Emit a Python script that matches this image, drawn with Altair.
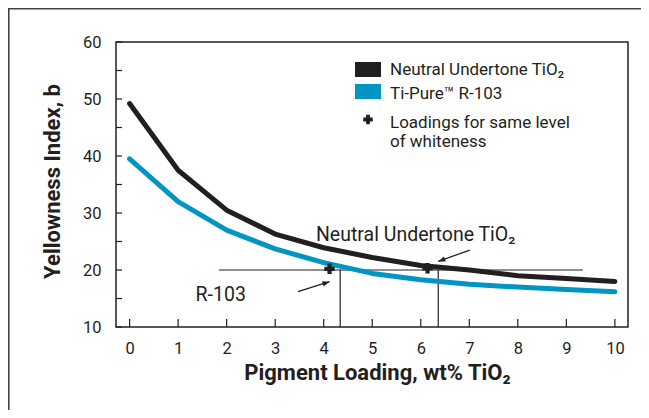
import altair as alt
import pandas as pd

# ---- data ----
loading = [0, 1, 2, 3, 4, 5, 6, 7, 8, 9, 10]
neutral_b = [49.2, 37.5, 30.5, 26.3, 23.9, 22.2, 20.8, 20.0, 19.0, 18.5, 18.0]
r103_b = [39.5, 32.0, 27.0, 23.7, 21.3, 19.4, 18.3, 17.5, 17.0, 16.6, 16.2]
series_names = ["Neutral Undertone TiO₂", "Ti-Pure™ R-103"]
series_colors = ["#231f20", "#0095c2"]

match_x = [4.12, 6.14]
match_y = [20.2, 20.3]
ref_level = [20]
ref_x_start = [1.84]
ref_x_end = [9.34]
drop_x = [4.34, 6.36]

arrow_x = [3.47, 7.01]
arrow_y = [16.2, 23.5]
arrow_x2 = [4.12, 6.36]
arrow_y2 = [17.95, 21.5]
arrow_angle = [72, 250]

note_text = ["Neutral Undertone TiO₂", "R-103"]
note_x = [3.84, 1.36]
note_y = [25.1, 14.6]

x_tick_values = list(range(0, 11))
y_label_values = [10, 20, 30, 40, 50, 60]
y_tick_values = list(range(10, 61, 5))

FONT = "Roboto, Liberation Sans, sans-serif"
INK = "#231f20"
W, H = 512, 285

lines_df = pd.DataFrame({
    "x": loading * 2,
    "y": neutral_b + r103_b,
    "series": [series_names[0]] * len(loading) + [series_names[1]] * len(loading),
})

xscale = alt.Scale(domain=[-0.28, 10.27], nice=False, zero=False)
yscale = alt.Scale(domain=[10, 60], nice=False, zero=False)

xax = alt.Axis(values=x_tick_values, ticks=False, tickSize=0, domain=False, grid=False,
               labelPadding=13, labelFontSize=16.5, labelColor=INK, labelFont=FONT,
               title="Pigment Loading, wt% TiO₂", titleFont=FONT, titleFontSize=22,
               titleFontWeight="bold", titleColor=INK, titleX=261, titleY=52,
               titleBaseline="alphabetic", titleAlign="center")
yax = alt.Axis(values=y_label_values, ticks=False, tickSize=0, domain=False, grid=False,
               labelPadding=15, labelFontSize=16.5, labelColor=INK, labelFont=FONT,
               labelFlush=False,
               title="Yellowness Index, b", titleFont=FONT, titleFontSize=22,
               titleFontWeight="bold", titleColor=INK, titleX=-57, titleY=139,
               titleBaseline="alphabetic", titleAlign="center", titleAngle=270)

lines = alt.Chart(lines_df).mark_line(strokeWidth=5, strokeCap="round", strokeJoin="round").encode(
    x=alt.X("x:Q", scale=xscale, axis=xax),
    y=alt.Y("y:Q", scale=yscale, axis=yax),
    color=alt.Color("series:N", scale=alt.Scale(domain=series_names, range=series_colors), legend=None),
    detail="series:N",
)

href = alt.Chart(pd.DataFrame({"x": ref_x_start, "x2": ref_x_end, "y": ref_level})).mark_rule(
    color=INK, strokeWidth=1.2).encode(x="x:Q", x2="x2:Q", y="y:Q")

drops = alt.Chart(pd.DataFrame({"x": drop_x, "y": [20, 20], "y2": [10, 10]})).mark_rule(
    color=INK, strokeWidth=1.2).encode(x="x:Q", y="y:Q", y2="y2:Q")

markers = alt.Chart(pd.DataFrame({"x": match_x, "y": match_y})).mark_point(
    shape="cross", filled=True, size=110, color=INK, opacity=1).encode(x="x:Q", y="y:Q")

arrows_df = pd.DataFrame({"x": arrow_x, "y": arrow_y, "x2": arrow_x2, "y2": arrow_y2, "angle": arrow_angle})
arrow_lines = alt.Chart(arrows_df).mark_rule(color=INK, strokeWidth=1.3).encode(
    x="x:Q", y="y:Q", x2="x2:Q", y2="y2:Q")
arrow_heads = alt.Chart(arrows_df).mark_point(
    shape="M0,0L-0.38,1L0.38,1Z", filled=True, size=200, color=INK, opacity=1).encode(
    x="x2:Q", y="y2:Q", angle=alt.Angle("angle:Q", scale=None))

notes = alt.Chart(pd.DataFrame({"x": note_x, "y": note_y, "t": note_text})).mark_text(
    align="left", baseline="alphabetic", font=FONT, fontSize=19.5, color=INK).encode(
    x="x:Q", y="y:Q", text="t:N")

xticks = alt.Chart(pd.DataFrame({"x": x_tick_values})).mark_rule(color=INK, strokeWidth=1.2).encode(
    x="x:Q", y=alt.value(H), y2=alt.value(H - 8))
yticks = alt.Chart(pd.DataFrame({"y": y_tick_values})).mark_rule(color=INK, strokeWidth=1.2).encode(
    y="y:Q", x=alt.value(0), x2=alt.value(6))

one = pd.DataFrame({"a": [0]})
leg_black = alt.Chart(one).mark_rect(color=series_colors[0]).encode(
    x=alt.value(239), x2=alt.value(265), y=alt.value(20), y2=alt.value(35))
leg_blue = alt.Chart(one).mark_rect(color=series_colors[1]).encode(
    x=alt.value(239), x2=alt.value(265), y=alt.value(42), y2=alt.value(57))
leg_cross = alt.Chart(one).mark_point(shape="cross", filled=True, size=90, color=INK, opacity=1).encode(
    x=alt.value(252), y=alt.value(77.5))
leg_t1 = alt.Chart(one).mark_text(align="left", baseline="alphabetic", font=FONT, fontSize=17, color=INK).encode(
    x=alt.value(274), y=alt.value(33), text=alt.value(series_names[0]))
leg_t2 = alt.Chart(one).mark_text(align="left", baseline="alphabetic", font=FONT, fontSize=17, color=INK).encode(
    x=alt.value(274), y=alt.value(57.3), text=alt.value(series_names[1]))
leg_t3 = alt.Chart(one).mark_text(align="left", baseline="alphabetic", font=FONT, fontSize=17, color=INK,
                                  lineBreak="\n", lineHeight=19).encode(
    x=alt.value(274), y=alt.value(85.7), text=alt.value("Loadings for same level\nof whiteness"))

frame_left = alt.Chart(one).mark_rule(color="#444444", strokeWidth=1.6).encode(
    x=alt.value(-107.2), y=alt.value(-34), y2=alt.value(H + 83))
frame_top = alt.Chart(one).mark_rule(color="#444444", strokeWidth=1.6).encode(
    x=alt.value(-108), x2=alt.value(W + 13), y=alt.value(-33.2))

chart = alt.layer(
    href, drops, lines, markers, arrow_lines, arrow_heads, notes, xticks, yticks,
    leg_black, leg_blue, leg_cross, leg_t1, leg_t2, leg_t3, frame_left, frame_top,
).properties(
    width=W, height=H,
    autosize=alt.AutoSizeParams(type="none"),
    padding={"left": 108, "top": 34, "right": 13, "bottom": 83},
).configure(
    background="white",
    view=alt.ViewConfig(stroke=INK, strokeWidth=1.5),
)

chart.save("out.html", embed_options={"renderer": "svg", "actions": False})
